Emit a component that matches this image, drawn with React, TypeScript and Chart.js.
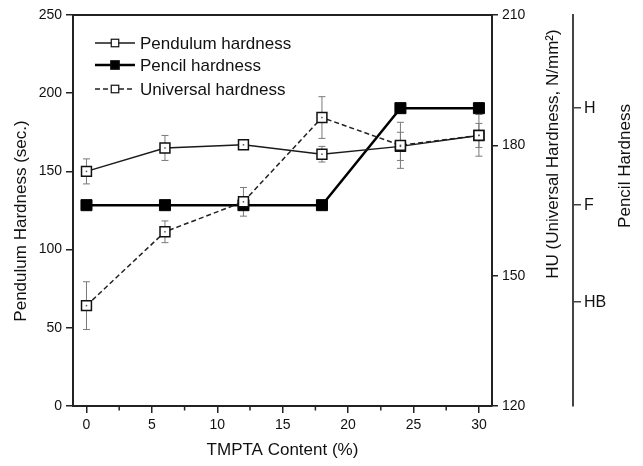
import React, { useEffect, useRef } from 'react';
import { Chart, registerables } from 'chart.js';

Chart.register(...registerables);

// ---- data ----
const TMPTA = [0, 6, 12, 18, 24, 30];
const PENDULUM = [150, 165, 167, 161, 166, 173];
const PENDULUM_ERR = [8, 8, 3, 5, 9, 7.7];
const PENCIL = ['F', 'F', 'F', 'F', 'H', 'H'];
const PENCIL_GRADES = ['HB', 'F', 'H'];
const UNIVERSAL = [143.1, 160.1, 167.0, 186.4, 180.0, 182.3];
const UNIVERSAL_ERR = [5.5, 2.5, 3.3, 4.8, 5.3, 4.8];
const X_TICKS = [0, 2.5, 5, 7.5, 10, 12.5, 15, 17.5, 20, 22.5, 25, 27.5, 30];
const LEFT_TICKS = [0, 50, 100, 150, 200, 250];
const HU_TICKS = [120, 150, 180, 210];
const PENCIL_TICKS = [1, 2, 3];

const FONT = "'Liberation Sans', Arial, Helvetica, sans-serif";
const INK = '#111';

const gradeValue = (g: string) => PENCIL_GRADES.indexOf(g) + 1;
const isMajorX = (v: number) => v % 5 === 0;

const extrasPlugin = {
  id: 'extras',
  beforeDatasetsDraw(chart: any) {
    const ctx = chart.ctx;
    ctx.save();
    ctx.strokeStyle = '#7a7a7a';
    ctx.lineWidth = 1;
    chart.data.datasets.forEach((ds: any, di: number) => {
      if (!ds.errors) return;
      const meta = chart.getDatasetMeta(di);
      const ys = chart.scales[ds.yAxisID];
      ds.data.forEach((p: any, i: number) => {
        const x = meta.data[i].x;
        const e = ds.errors[i];
        const y1 = ys.getPixelForValue(p.y + e);
        const y2 = ys.getPixelForValue(p.y - e);
        ctx.beginPath();
        ctx.moveTo(x, y1);
        ctx.lineTo(x, y2);
        ctx.moveTo(x - 3.5, y1);
        ctx.lineTo(x + 3.5, y1);
        ctx.moveTo(x - 3.5, y2);
        ctx.lineTo(x + 3.5, y2);
        ctx.stroke();
      });
    });
    ctx.restore();
  },
  afterDatasetsDraw(chart: any) {
    const ctx = chart.ctx;
    ctx.save();
    ctx.fillStyle = '#555';
    chart.data.datasets.forEach((ds: any, di: number) => {
      if (ds.pointBackgroundColor !== '#ffffff') return;
      const meta = chart.getDatasetMeta(di);
      meta.data.forEach((pt: any) => {
        ctx.fillRect(pt.x - 0.75, pt.y - 0.75, 1.5, 1.5);
      });
    });
    ctx.restore();
  },
  afterDraw(chart: any) {
    const ctx = chart.ctx;
    const a = chart.chartArea;
    ctx.save();
    // top frame line
    ctx.strokeStyle = '#222';
    ctx.lineWidth = 2;
    ctx.beginPath();
    ctx.moveTo(a.left, a.top);
    ctx.lineTo(a.right, a.top);
    ctx.stroke();

    // minor x ticks (shorter)
    const xs = chart.scales.x;
    ctx.lineWidth = 1.5;
    ctx.beginPath();
    X_TICKS.filter((v) => !isMajorX(v)).forEach((v) => {
      const px = xs.getPixelForValue(v);
      ctx.moveTo(px, a.bottom);
      ctx.lineTo(px, a.bottom + 4.5);
    });
    ctx.stroke();

    // legend
    const rows = [a.top + 28, a.top + 50, a.top + 74];
    chart.data.datasets.forEach((ds: any, i: number) => {
      const y = rows[i];
      const x0 = a.left + 22;
      const x1 = a.left + 62;
      const xm = (x0 + x1) / 2;
      ctx.strokeStyle = ds.borderColor;
      ctx.lineWidth = ds.borderWidth;
      ctx.setLineDash(ds.borderDash || []);
      ctx.beginPath();
      ctx.moveTo(x0, y);
      ctx.lineTo(x1, y);
      ctx.stroke();
      ctx.setLineDash([]);
      const s = ds.pointBackgroundColor === '#ffffff' ? 7.5 : 8.5;
      ctx.fillStyle = ds.pointBackgroundColor;
      ctx.fillRect(xm - s / 2, y - s / 2, s, s);
      ctx.strokeStyle = '#111';
      ctx.lineWidth = 1.2;
      ctx.strokeRect(xm - s / 2, y - s / 2, s, s);
      ctx.fillStyle = INK;
      ctx.font = `17px ${FONT}`;
      ctx.textAlign = 'left';
      ctx.textBaseline = 'middle';
      ctx.fillText(ds.label, x1 + 5, y + 1);
    });

    // axis titles
    ctx.fillStyle = INK;
    ctx.font = `17px ${FONT}`;
    ctx.textAlign = 'center';
    ctx.textBaseline = 'middle';
    const vText = (t: string, x: number, y: number) => {
      ctx.save();
      ctx.translate(x, y);
      ctx.rotate(-Math.PI / 2);
      ctx.fillText(t, 0, 0);
      ctx.restore();
    };
    vText('Pendulum Hardness (sec.)', 21, a.top + 206);
    vText('HU (Universal Hardness, N/mm\u00B2)', chart.scales.hu.left + 61, a.top + 139);
    vText('Pencil Hardness', chart.scales.pencil.left + 52, a.top + 151);
    ctx.fillText('TMPTA Content (%)', (a.left + a.right) / 2, 450);
    ctx.restore();
  },
};

export default function App() {
  const ref = useRef<HTMLCanvasElement | null>(null);
  useEffect(() => {
    if (!ref.current) return;
    const tickFont = { family: FONT, size: 14 };
    const grid = { drawOnChartArea: false, drawTicks: true, tickLength: 7, color: '#222', lineWidth: 1.5 };
    const border = { display: true, color: '#222', width: 2 };
    const chart = new Chart(ref.current, {
      type: 'line',
      data: {
        datasets: [
          {
            label: 'Pendulum hardness',
            data: TMPTA.map((x, i) => ({ x, y: PENDULUM[i] })),
            errors: PENDULUM_ERR,
            yAxisID: 'y',
            borderColor: '#1a1a1a',
            borderWidth: 1.5,
            pointStyle: 'rect',
            pointRadius: 7,
            pointBorderWidth: 1.5,
            pointBorderColor: '#111',
            pointBackgroundColor: '#ffffff',
            order: 1,
          },
          {
            label: 'Pencil hardness',
            data: TMPTA.map((x, i) => ({ x, y: gradeValue(PENCIL[i]) })),
            yAxisID: 'pencil',
            borderColor: '#000',
            borderWidth: 2.5,
            pointStyle: 'rect',
            pointRadius: 7.8,
            pointBorderWidth: 1,
            pointBorderColor: '#000',
            pointBackgroundColor: '#000000',
            order: 2,
          },
          {
            label: 'Universal hardness',
            data: TMPTA.map((x, i) => ({ x, y: UNIVERSAL[i] })),
            errors: UNIVERSAL_ERR,
            yAxisID: 'hu',
            borderColor: '#222',
            borderWidth: 1.5,
            borderDash: [5, 3],
            pointStyle: 'rect',
            pointRadius: 7,
            pointBorderWidth: 1.5,
            pointBorderColor: '#111',
            pointBackgroundColor: '#ffffff',
            order: 0,
          },
        ] as any,
      },
      options: {
        animation: false,
        responsive: false,
        devicePixelRatio: 1,
        layout: { padding: { top: 15, left: 0, right: 0, bottom: 0 } },
        plugins: { legend: { display: false }, tooltip: { enabled: false } },
        scales: {
          x: {
            type: 'linear',
            position: 'bottom',
            min: -1.03,
            max: 31,
            afterBuildTicks: (s: any) => {
              s.ticks = X_TICKS.map((v) => ({ value: v }));
            },
            afterFit: (s: any) => {
              s.height = 60;
            },
            ticks: {
              font: tickFont,
              color: INK,
              padding: 4,
              maxRotation: 0,
              autoSkip: false,
              callback: (v: any) => (isMajorX(Number(v)) ? String(v) : ''),
            },
            grid: {
              ...grid,
              color: (c: any) => (c.tick && !isMajorX(c.tick.value) ? 'rgba(0,0,0,0)' : '#222'),
            },
            border,
          },
          y: {
            type: 'linear',
            position: 'left',
            min: 0,
            max: 250,
            afterBuildTicks: (s: any) => {
              s.ticks = LEFT_TICKS.map((v) => ({ value: v }));
            },
            afterFit: (s: any) => {
              s.width = 73;
            },
            ticks: { font: tickFont, color: INK, padding: 4 },
            grid,
            border,
          },
          hu: {
            type: 'linear',
            position: 'right',
            min: 120,
            max: 210,
            afterBuildTicks: (s: any) => {
              s.ticks = HU_TICKS.map((v) => ({ value: v }));
            },
            afterFit: (s: any) => {
              s.width = 81;
            },
            ticks: { font: tickFont, color: INK, padding: 4 },
            grid: { ...grid, tickLength: 6 },
            border,
          },
          pencil: {
            type: 'linear',
            position: 'right',
            min: -0.07,
            max: 3.96,
            afterBuildTicks: (s: any) => {
              s.ticks = PENCIL_TICKS.map((v) => ({ value: v }));
            },
            afterFit: (s: any) => {
              s.width = 70;
            },
            ticks: {
              font: { family: FONT, size: 16 },
              color: INK,
              padding: 3,
              callback: (v: any) => PENCIL_GRADES[Number(v) - 1] || '',
            },
            grid: { drawOnChartArea: false, drawTicks: true, tickLength: 8, color: '#444', lineWidth: 1.5 },
            border: { display: true, color: '#444', width: 2 },
          },
        } as any,
      },
      plugins: [extrasPlugin],
    } as any);
    return () => chart.destroy();
  }, []);
  return (
    <canvas
      ref={ref}
      width={643}
      height={466}
      style={{ position: 'absolute', left: 0, top: 0, display: 'block', background: '#fff' }}
    />
  );
}
